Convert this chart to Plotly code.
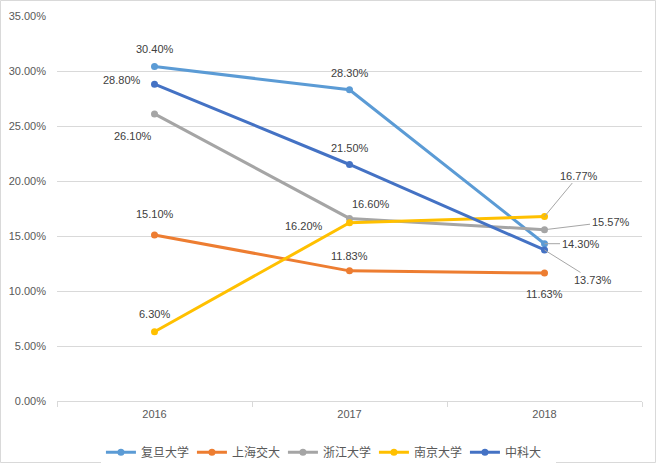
import plotly.graph_objects as go

years = ["2016", "2017", "2018"]
fudan = [30.40, 28.30, 14.30]
sjtu = [15.10, 11.83, 11.63]
zju = [26.10, 16.60, 15.57]
nju = [6.30, 16.20, 16.77]
ustc = [28.80, 21.50, 13.73]

series = [
    ("复旦大学", fudan, "#5B9BD5"),
    ("上海交大", sjtu, "#ED7D31"),
    ("浙江大学", zju, "#A5A5A5"),
    ("南京大学", nju, "#FFC000"),
    ("中科大", ustc, "#4472C4"),
]

# label offsets in pixels (dx, dy screen-down positive), arrow flag
offsets = {
    "复旦大学": [(0, -18, False), (0, -17, False), (36, 0, True)],
    "上海交大": [(0, -21, False), (0, -15, False), (0, 21, False)],
    "浙江大学": [(-22, 22, False), (21, -14, False), (66, -8, True)],
    "南京大学": [(0, -18, False), (-46, 3, False), (34, -41, True)],
    "中科大": [(-33, -4, False), (0, -17, False), (48, 30, True)],
}

font_main = "Liberation Sans"
fig = go.Figure()
for name, vals, color in series:
    fig.add_trace(go.Scatter(
        x=years, y=vals, name=name, mode="lines+markers",
        line=dict(color=color, width=3),
        marker=dict(color=color, size=7),
    ))

for name, vals, color in series:
    for i in range(len(years)):
        v = vals[i]
        dx, dy, arrow = offsets[name][i]
        txt = "%.2f%%" % v
        if arrow:
            fig.add_annotation(
                x=i, y=v, xref="x", yref="y", text=txt, showarrow=True,
                ax=dx, ay=dy, arrowhead=0, arrowwidth=1, arrowcolor="#A6A6A6",
                font=dict(family=font_main, size=11, color="#404040"),
            )
        else:
            fig.add_annotation(
                x=i, y=v, xref="x", yref="y", text=txt, showarrow=False,
                xshift=dx, yshift=-dy,
                font=dict(family=font_main, size=11, color="#404040"),
            )

W, H = 657, 464
ml, mr, mt, mb = 57, 15, 16, 63
pw, ph = W - ml - mr, H - mt - mb

fig.add_shape(type="rect", xref="paper", yref="paper",
              x0=(-ml + 0.5) / pw, x1=1 + (mr - 1.5) / pw,
              y0=(-mb + 1.5) / ph, y1=1 + (mt - 0.5) / ph,
              line=dict(color="#D9D9D9", width=1), layer="below")

fig.update_layout(
    width=W, height=H,
    margin=dict(l=ml, r=mr, t=mt, b=mb, autoexpand=False),
    paper_bgcolor="white", plot_bgcolor="white",
    font=dict(family=font_main, size=11, color="#595959"),
    showlegend=True,
    legend=dict(orientation="h", x=0.464, xanchor="center", y=-0.133, yanchor="middle",
                font=dict(family="Noto Sans CJK SC", size=12, color="#595959"),
                itemwidth=30, entrywidth=46, entrywidthmode="pixels"),
    xaxis=dict(type="category", showgrid=False, showline=True, linecolor="#D9D9D9",
               linewidth=1, ticks="outside", tickson="boundaries", ticklen=5,
               tickcolor="#D9D9D9", tickfont=dict(size=11, color="#595959"),
               range=[-0.5, 2.5], zeroline=False, ticklabelstandoff=3),
    yaxis=dict(range=[0, 35], dtick=5, tickformat=".2f", ticksuffix="%",
               showgrid=True, gridcolor="#D9D9D9", gridwidth=1, zeroline=False,
               showline=False, tickfont=dict(size=11, color="#595959"),
               ticklabelstandoff=10),
)

fig.write_html("out.html", config={"displayModeBar": False},
               post_script="document.body.style.margin='0';")
